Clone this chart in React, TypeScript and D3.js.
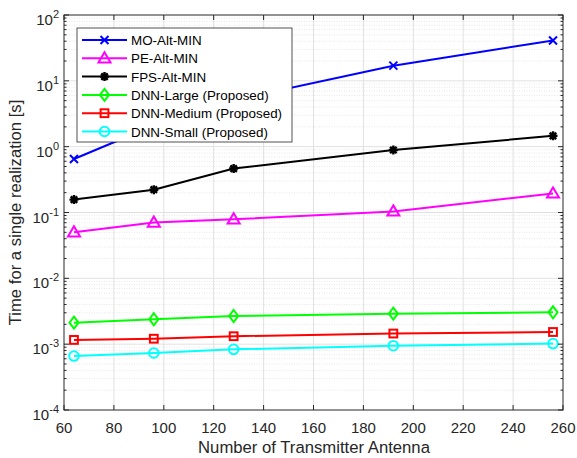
import React from "react";
import * as d3 from "d3";

const antennas = [64, 96, 128, 192, 256];
const moAltMin = [0.65, 2.1, 5.1, 17, 41];
const peAltMin = [0.05, 0.0706, 0.079, 0.104, 0.195];
const fpsAltMin = [0.157, 0.222, 0.465, 0.89, 1.46];
const dnnLarge = [0.00212, 0.00239, 0.00268, 0.00291, 0.00305];
const dnnMedium = [0.00116, 0.00121, 0.00132, 0.00145, 0.00153];
const dnnSmall = [0.00066, 0.000734, 0.000834, 0.000948, 0.00102];

const xTicks = [60, 80, 100, 120, 140, 160, 180, 200, 220, 240, 260];
const yExponents = [-4, -3, -2, -1, 0, 1, 2];

const seriesNames = [
  "MO-Alt-MIN",
  "PE-Alt-MIN",
  "FPS-Alt-MIN",
  "DNN-Large (Proposed)",
  "DNN-Medium (Proposed)",
  "DNN-Small (Proposed)",
];

const series = [
  { name: seriesNames[0], values: moAltMin, color: "#0000ff", marker: "x" },
  { name: seriesNames[1], values: peAltMin, color: "#ff00ff", marker: "triangle" },
  { name: seriesNames[2], values: fpsAltMin, color: "#000000", marker: "star" },
  { name: seriesNames[3], values: dnnLarge, color: "#00ff00", marker: "diamond" },
  { name: seriesNames[4], values: dnnMedium, color: "#ff0000", marker: "square" },
  { name: seriesNames[5], values: dnnSmall, color: "#00ffff", marker: "circle" },
];

const W = 577;
const H = 458;
const M = { left: 64, right: 14, top: 15, bottom: 48 };
const FONT = "'Liberation Sans', Arial, Helvetica, sans-serif";
const AX = "#262626";

function Marker({ type, x, y, color }: { type: string; x: number; y: number; color: string }) {
  const sw = 2;
  if (type === "x") {
    const s = 4;
    return (
      <path d={`M${x - s},${y - s}L${x + s},${y + s}M${x - s},${y + s}L${x + s},${y - s}`} stroke={color} strokeWidth={sw} fill="none" />
    );
  }
  if (type === "triangle") {
    const s = 6;
    return (
      <path d={`M${x},${y - s}L${x + s},${y + s * 0.7}L${x - s},${y + s * 0.7}Z`} stroke={color} strokeWidth={sw} fill="none" strokeLinejoin="miter" />
    );
  }
  if (type === "star") {
    const s = 4.5;
    const d = s * 0.72;
    return (
      <path
        d={`M${x - s},${y}L${x + s},${y}M${x},${y - s}L${x},${y + s}M${x - d},${y - d}L${x + d},${y + d}M${x - d},${y + d}L${x + d},${y - d}`}
        stroke={color}
        strokeWidth={2.4}
        fill="none"
      />
    );
  }
  if (type === "diamond") {
    const sx = 4.5;
    const sy = 6;
    return (
      <path d={`M${x},${y - sy}L${x + sx},${y}L${x},${y + sy}L${x - sx},${y}Z`} stroke={color} strokeWidth={sw} fill="none" />
    );
  }
  if (type === "square") {
    const s = 3.9;
    return <rect x={x - s} y={y - s} width={2 * s} height={2 * s} stroke={color} strokeWidth={sw} fill="none" />;
  }
  return <circle cx={x} cy={y} r={4.8} stroke={color} strokeWidth={sw} fill="none" />;
}

export default function App() {
  const x = d3.scaleLinear().domain([60, 260]).range([M.left, W - M.right]);
  const y = d3.scaleLog().domain([1e-4, 1e2]).range([H - M.bottom, M.top]);
  const line = d3
    .line<number>()
    .x((_, i) => x(antennas[i]))
    .y((v) => y(v));

  const x0 = M.left;
  const x1 = W - M.right;
  const y0 = M.top;
  const y1 = H - M.bottom;

  const minorY: number[] = [];
  for (const e of yExponents.slice(0, -1)) {
    for (let k = 2; k <= 9; k++) minorY.push(k * Math.pow(10, e));
  }

  const legX = 77;
  const legY = 28;
  const legW = 215;
  const legH = 114;
  const rowH = 18.3;

  return (
    <svg width={W} height={H} style={{ position: "absolute", left: 0, top: 0, background: "#fff" }} fontFamily={FONT}>
      <rect x={0} y={0} width={W} height={H} fill="#fff" />
      {/* minor grid */}
      {minorY.map((v, i) => (
        <line key={"mg" + i} x1={x0} x2={x1} y1={y(v)} y2={y(v)} stroke="#d9d9d9" strokeWidth={0.6} strokeDasharray="1,1.5" />
      ))}
      {/* major grid */}
      {xTicks.slice(1, -1).map((t) => (
        <line key={"gx" + t} x1={x(t)} x2={x(t)} y1={y0} y2={y1} stroke="#e1e1e1" strokeWidth={1} />
      ))}
      {yExponents.slice(1, -1).map((e) => (
        <line key={"gy" + e} x1={x0} x2={x1} y1={y(Math.pow(10, e))} y2={y(Math.pow(10, e))} stroke="#e1e1e1" strokeWidth={1} />
      ))}
      {/* data */}
      {series.map((s) => (
        <g key={s.name}>
          <path d={line(s.values) || ""} stroke={s.color} strokeWidth={2} fill="none" />
          {s.values.map((v, i) => (
            <Marker key={i} type={s.marker} x={x(antennas[i])} y={y(v)} color={s.color} />
          ))}
        </g>
      ))}
      {/* axes box */}
      <rect x={x0} y={y0} width={x1 - x0} height={y1 - y0} fill="none" stroke={AX} strokeWidth={1} />
      {/* x ticks */}
      {xTicks.map((t) => (
        <g key={"xt" + t}>
          <line x1={x(t)} x2={x(t)} y1={y1} y2={y1 - 5} stroke={AX} />
          <line x1={x(t)} x2={x(t)} y1={y0} y2={y0 + 5} stroke={AX} />
          <text x={x(t)} y={y1 + 23} textAnchor="middle" fontSize={15} fill={AX}>
            {t}
          </text>
        </g>
      ))}
      {/* y ticks */}
      {yExponents.map((e) => {
        const yy = y(Math.pow(10, e));
        return (
          <g key={"yt" + e}>
            <line x1={x0} x2={x0 + 5} y1={yy} y2={yy} stroke={AX} />
            <line x1={x1} x2={x1 - 5} y1={yy} y2={yy} stroke={AX} />
            <text x={x0 - 5} y={yy + 10} textAnchor="end" fontSize={15} fill={AX}>
              10
              <tspan dy={-7} fontSize={11}>
                {e}
              </tspan>
            </text>
          </g>
        );
      })}
      {minorY.map((v, i) => (
        <g key={"myt" + i}>
          <line x1={x0} x2={x0 + 2.5} y1={y(v)} y2={y(v)} stroke={AX} />
          <line x1={x1} x2={x1 - 2.5} y1={y(v)} y2={y(v)} stroke={AX} />
        </g>
      ))}
      {/* axis labels */}
      <text x={(x0 + x1) / 2 + 0.5} y={453} textAnchor="middle" fontSize={16.7} fill={AX}>
        Number of Transmitter Antenna
      </text>
      <text transform={`translate(21,${(y0 + y1) / 2}) rotate(-90)`} textAnchor="middle" fontSize={16.7} fill={AX}>
        Time for a single realization [s]
      </text>
      {/* legend */}
      <rect x={legX} y={legY} width={legW} height={legH} fill="#fff" stroke={AX} strokeWidth={0.8} />
      {series.map((s, i) => {
        const ry = legY + 12 + i * rowH;
        return (
          <g key={"lg" + i}>
            <line x1={legX + 5} x2={legX + 50} y1={ry} y2={ry} stroke={s.color} strokeWidth={2} />
            <Marker type={s.marker} x={legX + 27.5} y={ry} color={s.color} />
            <text x={legX + 54} y={ry + 5} fontSize={13.4} fill="#000">
              {s.name}
            </text>
          </g>
        );
      })}
    </svg>
  );
}
